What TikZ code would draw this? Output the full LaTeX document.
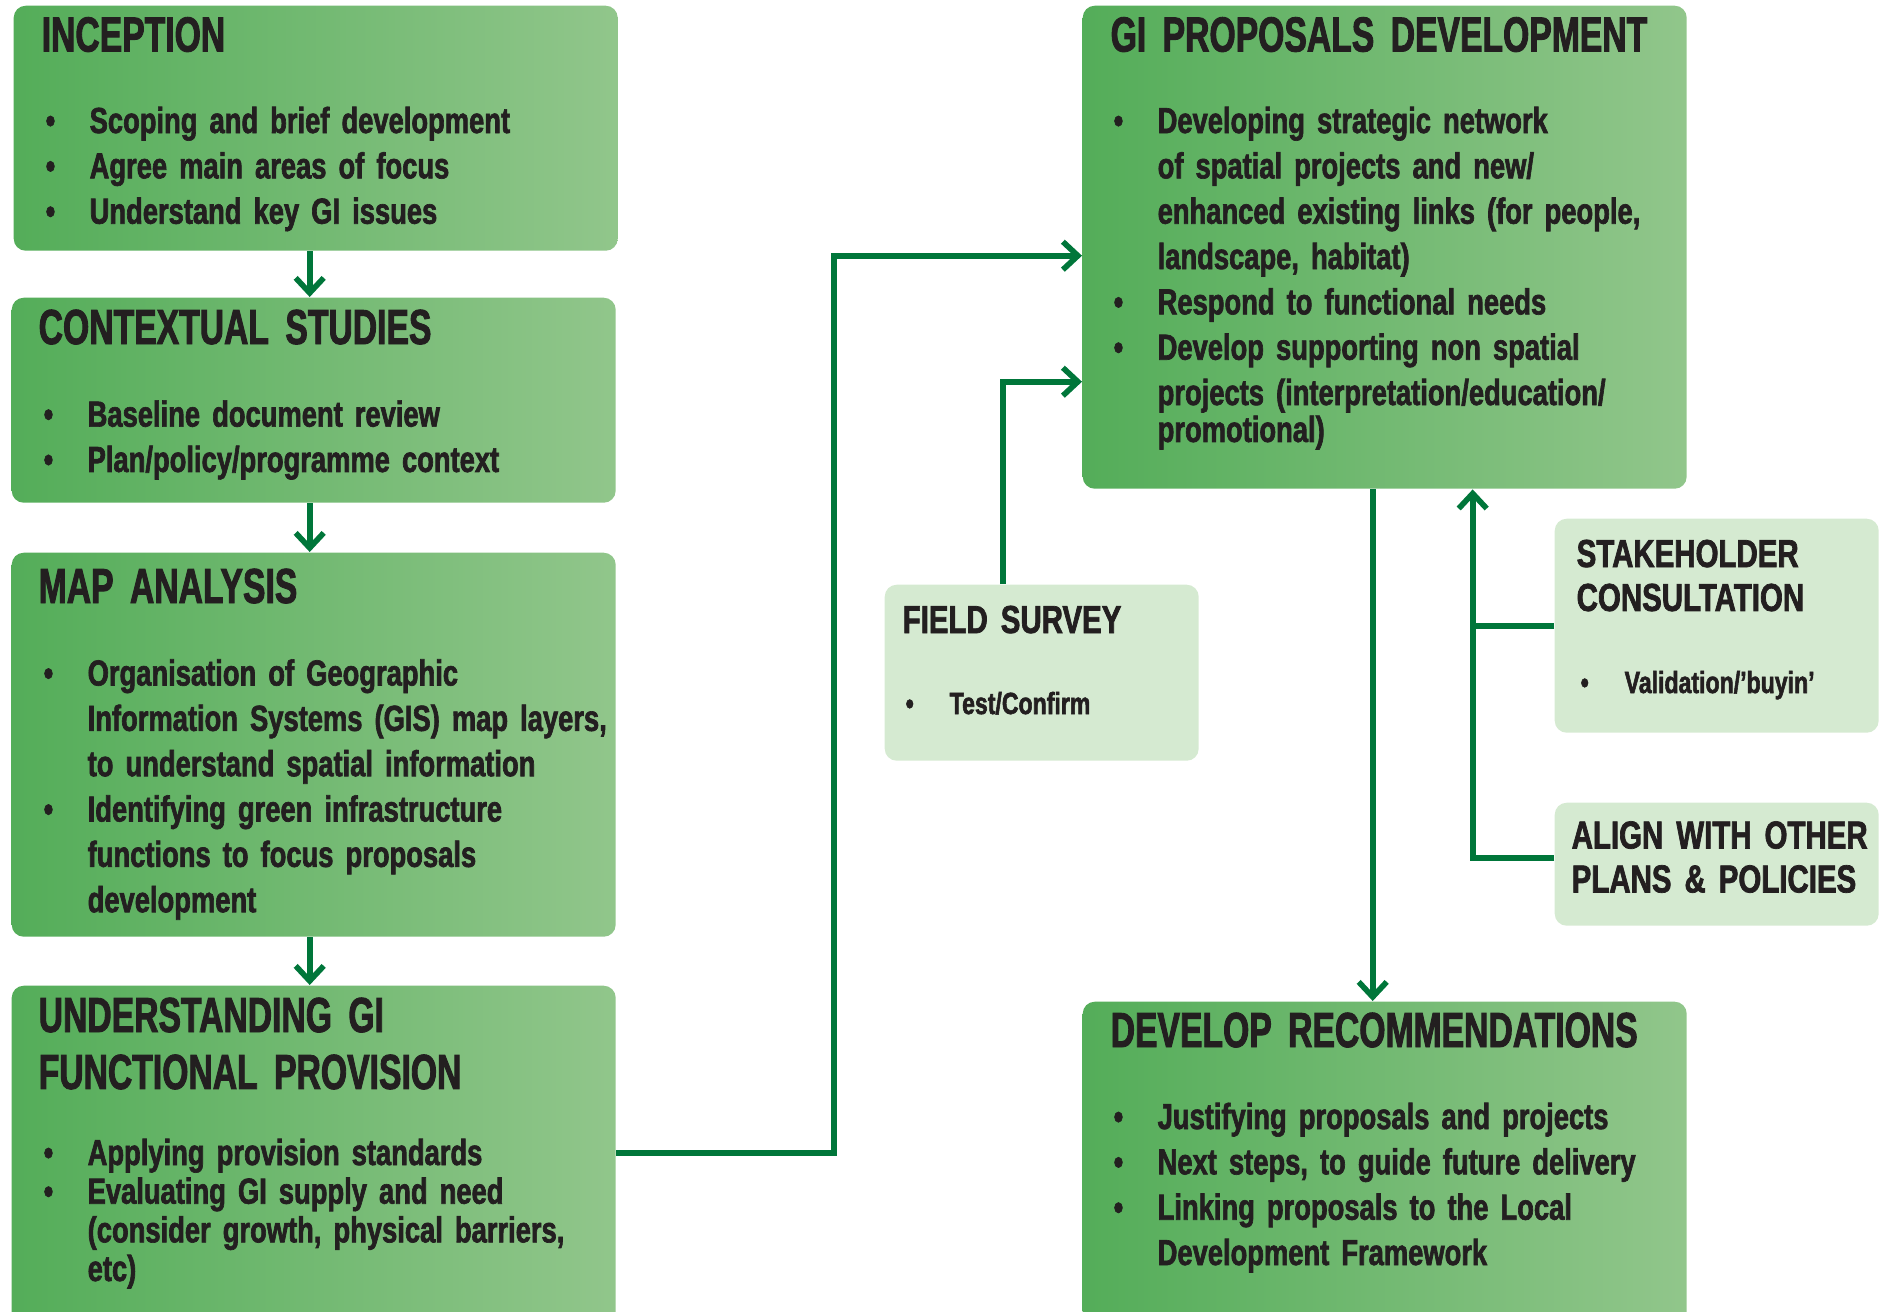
\documentclass[tikz,border=0pt]{standalone}
\usepackage{fontspec}
\usepackage{xcolor}
\usepackage{tikz}
\usetikzlibrary{arrows.meta}

\newfontfamily\hdfont[FakeStretch=0.685,FakeBold=1.8,WordSpace=0.85]{Liberation Sans}
\newfontfamily\bdfont[FakeStretch=0.755,FakeBold=1.8,WordSpace=0.75]{Liberation Sans}

\definecolor{gleft}{RGB}{84,173,89}
\definecolor{gright}{RGB}{145,198,139}
\definecolor{pale}{RGB}{213,234,209}
\definecolor{linegreen}{RGB}{0,118,58}
\definecolor{ink}{RGB}{35,31,32}

\newlength{\bulw}\setlength{\bulw}{4.4mm}
\newcommand{\bul}{\makebox[\bulw][l]{\textbullet}}
\newcommand{\cnt}{\hspace*{\bulw}}

\tikzset{
  gibox/.style={rounded corners=1.2mm, left color=gleft, right color=gright,
    inner sep=0, anchor=north west},
  palebox/.style={rounded corners=1.2mm, fill=pale, inner sep=0, anchor=north west},
  bigtitle/.style={anchor=base west, inner sep=0, text=ink, text width=70mm, align=left,
    font=\hdfont\bfseries\fontsize{14}{16.2}\selectfont},
  smalltitle/.style={anchor=base west, inner sep=0, text=ink, text width=40mm, align=left,
    font=\bdfont\bfseries\fontsize{11.1}{12.5}\selectfont},
  items/.style={anchor=base west, inner sep=0, text=ink, text width=70mm, align=left,
    font=\bdfont\bfseries\fontsize{10.3}{12.9}\selectfont},
  smallitems/.style={items, text width=40mm, font=\bdfont\bfseries\fontsize{8.7}{10}\selectfont},
  link/.style={draw=linegreen, line width=1.6pt},
  flow/.style={link, -{Straight Barb[length=1.5mm,width=2.8mm]}},
}

\begin{document}
\begin{tikzpicture}[x=0.1mm, y=-0.1mm]
  \useasboundingbox (0,0) rectangle (1879,1311);

  % left column
  \node[gibox, minimum width=60.4mm, minimum height=24.5mm] (incep) at (13,5) {};
  \node[gibox, minimum width=60.4mm, minimum height=20.5mm] (ctx) at (11,297) {};
  \node[gibox, minimum width=60.4mm, minimum height=38.4mm] (map) at (11,552) {};
  \node[gibox, minimum width=60.4mm, minimum height=35.5mm] (und) at (11,985) {};

  \node[bigtitle] (incept) at (41,51.5) {INCEPTION};
  \node[items] (incepl) at (45,133) {\bul Scoping and brief development\\
    \bul Agree main areas of focus\\
    \bul Understand key GI issues};

  \node[bigtitle] (ctxt) at (38,344) {CONTEXTUAL STUDIES};
  \node[items] (ctxl) at (43,426.6) {\bul Baseline document review\\
    \bul Plan/policy/programme context};

  \node[bigtitle] (mapt) at (38,603) {MAP ANALYSIS};
  \node[items] (mapl) at (43,685.5) {\bul Organisation of Geographic\\
    \cnt Information Systems (GIS) map layers,\\
    \cnt to understand spatial information\\
    \bul Identifying green infrastructure\\
    \cnt functions to focus proposals\\
    \cnt development};

  \node[bigtitle] (undt) at (38,1032) {UNDERSTANDING GI\\ FUNCTIONAL PROVISION};
  \node[items, font=\bdfont\bfseries\fontsize{10.3}{11}\selectfont] (undl) at (43,1165)
    {\bul Applying provision standards\\
    \bul Evaluating GI supply and need\\
    \cnt (consider growth, physical barriers,\\
    \cnt etc)};

  % right part
  \node[gibox, minimum width=60.4mm, minimum height=48.3mm] (gip) at (1082,5) {};
  \node[gibox, minimum width=60.4mm, minimum height=33.9mm] (dev) at (1082,1001) {};
  \node[palebox, minimum width=31.4mm, minimum height=17.6mm] (field) at (884,584) {};
  \node[palebox, minimum width=32.4mm, minimum height=21.4mm] (stake) at (1554,518) {};
  \node[palebox, minimum width=32.4mm, minimum height=12.3mm] (align) at (1554,802) {};

  \node[bigtitle] (gipt) at (1110,51.5) {GI PROPOSALS DEVELOPMENT};
  \node[items] (gipl) at (1113,133) {\bul Developing strategic network\\
    \cnt of spatial projects and new/\\
    \cnt enhanced existing links (for people,\\
    \cnt landscape, habitat)\\
    \bul Respond to functional needs\\
    \bul Develop supporting non spatial\\
    \cnt projects (interpretation/education/\\[-2.4pt]
    \cnt promotional)};

  \node[bigtitle] (devt) at (1110,1047) {DEVELOP RECOMMENDATIONS};
  \node[items] (devl) at (1113,1129) {\bul Justifying proposals and projects\\
    \bul Next steps, to guide future delivery\\
    \bul Linking proposals to the Local\\
    \cnt Development Framework};

  \node[smalltitle] (fieldt) at (902,633) {FIELD SURVEY};
  \node[smallitems] (fieldl) at (905,714) {\bul Test/Confirm};

  \node[smalltitle] (staket) at (1576,567) {STAKEHOLDER\\ CONSULTATION};
  \node[smallitems] (stakel) at (1580,693) {\bul Validation/’buyin’};

  \node[smalltitle] (alignt) at (1571,848.5) {ALIGN WITH OTHER\\ PLANS \& POLICIES};

  % connectors
  \draw[flow] ([xshift=-0.6mm]incep.south) -- ([xshift=-0.6mm]incep.south |- ctx.north);
  \draw[flow] ([xshift=-0.4mm]ctx.south) -- ([xshift=-0.4mm]ctx.south |- map.north);
  \draw[flow] ([xshift=-0.4mm]map.south) -- ([xshift=-0.4mm]map.south |- und.north);

  \coordinate (gipin1) at ([yshift=-0.85mm]gip.west);
  \coordinate (gipin2) at ([yshift=-13.45mm]gip.west);
  \coordinate (gipin3) at ([xshift=8.8mm]gip.south);
  \draw[flow] ([yshift=1mm]und.east) -| ([xshift=-24.8mm]gipin1) -- (gipin1);
  \draw[flow] ([xshift=-3.9mm]field.north) |- (gipin2);
  \draw[flow] ([xshift=-1.2mm]gip.south) -- ([xshift=-1.2mm]dev.north);
  \draw[flow] ([yshift=0.65mm]align.west) -| (gipin3);
  \draw[link] (stake.west) -- (stake.west -| gipin3);
\end{tikzpicture}
\end{document}
